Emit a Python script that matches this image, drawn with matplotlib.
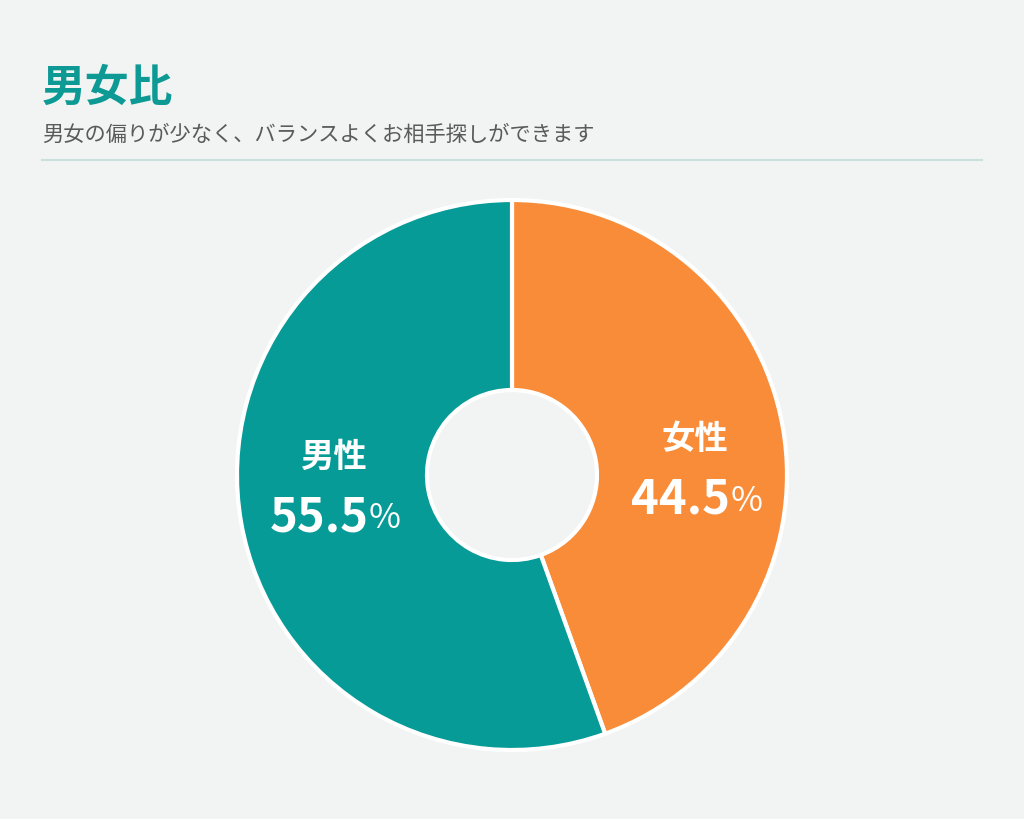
import matplotlib
matplotlib.use("Agg")
import matplotlib.pyplot as plt

# データ
labels = ["女性", "男性"]
values = [44.5, 55.5]
colors = ["#F98C38", "#069B97"]
title = "男女比"
subtitle = "男女の偏りが少なく、バランスよくお相手探しができます"

BG = "#F1F4F3"
plt.rcParams['font.family'] = ['Noto Sans CJK JP', 'DejaVu Sans']

fig = plt.figure(figsize=(10.24, 8.19), dpi=100, facecolor=BG)

# タイトル
fig.text(42 / 1024, 1 - 88 / 819, title, fontsize=31.5, fontweight='bold',
         color="#0E9A94", ha='left', va='center')
fig.text(42 / 1024, 1 - 135 / 819, subtitle, fontsize=15.3, color="#5A5A5A",
         ha='left', va='center')
fig.add_artist(plt.Line2D([42 / 1024, 982 / 1024], [1 - 160 / 819] * 2,
                          color="#C9E0DD", lw=1.5))

# ドーナツ
R = 275
box = 280
ax = fig.add_axes([(512 - box) / 1024, (819 - 475 - box) / 819,
                   2 * box / 1024, 2 * box / 819])
ax.set_facecolor(BG)
wedges, _ = ax.pie(values, colors=colors, startangle=90, counterclock=False,
                   radius=1, wedgeprops=dict(width=(275 - 85) / 275,
                                             edgecolor='white', linewidth=3))
lim = box / R
ax.set_xlim(-lim, lim)
ax.set_ylim(-lim, lim)
ax.set_aspect('equal')
ax.axis('off')

# ラベル位置 (データ座標)
label_pos = {"女性": (183 / R, 5 / R), "男性": (-179 / R, -12 / R)}
for lab, val in zip(labels, values):
    x, y = label_pos[lab]
    ax.text(x, y + 30 / R, lab, fontsize=24, fontweight='bold', color='white',
            ha='center', va='center')
    num = ax.text(x - 14 / R, y - 30 / R, f"{val}", fontsize=34,
                  fontweight='bold', color='white', ha='center', va='center')
    ax.annotate("%", xy=(1, 0.5), xycoords=num, xytext=(0, -1),
                textcoords='offset points', fontsize=25, color='white',
                ha='left', va='center')

fig.savefig("out.png", dpi=100, facecolor=BG)
